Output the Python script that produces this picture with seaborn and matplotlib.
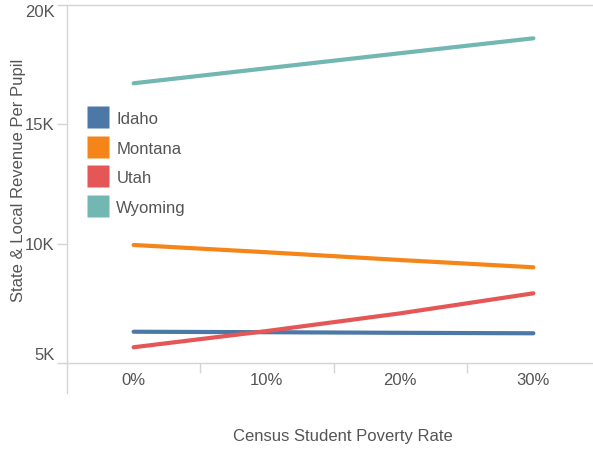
import matplotlib
matplotlib.use("Agg")
import matplotlib.pyplot as plt
import seaborn as sns
import pandas as pd
from matplotlib.lines import Line2D

states = ["Idaho", "Montana", "Utah", "Wyoming"]
poverty_rates = [0, 10, 20, 30]
idaho = [6310, 6290, 6265, 6245]
montana = [9945, 9640, 9315, 9010]
utah = [5660, 6340, 7080, 7920]
wyoming = [16720, 17350, 17980, 18605]
colors = ["#4c78a8", "#f58518", "#e45756", "#72b7b2"]
y_ticks = [5000, 10000, 15000, 20000]
y_tick_labels = ["5K", "10K", "15K", "20K"]
x_tick_labels = ["0%", "10%", "20%", "30%"]

series = {"Idaho": idaho, "Montana": montana, "Utah": utah, "Wyoming": wyoming}
rows = []
for s in states:
    for x, v in zip(poverty_rates, series[s]):
        rows.append({"rate": x, "revenue": v, "state": s})
df = pd.DataFrame(rows)

sns.set_theme(style="white")
plt.rcParams["font.family"] = ["Liberation Sans", "DejaVu Sans"]

W, H = 593, 451
fig = plt.figure(figsize=(W / 100, H / 100), dpi=100)
ax = fig.add_axes([67 / W, 1 - 363 / H, (600 - 67) / W, (363 - 5) / H])

sns.lineplot(data=df, x="rate", y="revenue", hue="state", hue_order=states,
             palette=colors, linewidth=3.0, ax=ax, legend=False,
             solid_capstyle="round")

ax.set_xlim(-5, 35)
ax.set_ylim(5000, 20000)

grey_line = "#d4d4d4"
text_col = "#555555"
fs = 12

for sp in ["left", "top", "bottom"]:
    ax.spines[sp].set_color(grey_line)
    ax.spines[sp].set_linewidth(1.0)
ax.spines["right"].set_visible(False)

ax.set_yticks(y_ticks)
ax.set_yticklabels(y_tick_labels)
ax.tick_params(axis="y", length=7, width=1.0, color=grey_line, labelcolor=text_col,
               labelsize=fs, pad=2, left=True)
ytl = ax.get_yticklabels()
ytl[0].set_va("bottom")
ytl[-1].set_va("top")

# labels at band centers, ticks at band edges
ax.set_xticks(poverty_rates)
ax.set_xticklabels(x_tick_labels)
ax.set_xticks([5, 15, 25], minor=True)
ax.tick_params(axis="x", which="major", length=0, labelcolor=text_col, labelsize=fs, pad=7)
ax.tick_params(axis="x", which="minor", length=7, width=1.0, color=grey_line, bottom=True)

# extended left edge line below the axis
ax.add_line(Line2D([0, 0], [0, -30 / 358], transform=ax.transAxes, color=grey_line,
                   linewidth=1.0, clip_on=False))

ax.set_xlabel("Census Student Poverty Rate", fontsize=fs, color=text_col, labelpad=0)
ax.xaxis.set_label_coords((343 - 67) / 533, -(429 - 363) / 358)
ax.set_ylabel("State & Local Revenue Per Pupil", fontsize=fs, color=text_col)
ax.yaxis.set_label_coords(-(67 - 26) / 533, (363 - 180) / 358)

handles = [Line2D([], [], marker="s", markersize=15.5, linestyle="none",
                  markerfacecolor=c, markeredgecolor="none") for c in colors]
leg = ax.legend(handles, states, loc="upper left",
                bbox_to_anchor=((88 - 67) / 533, (363 - 110) / 358),
                frameon=False, borderpad=0, borderaxespad=0, prop={"size": fs},
                handlelength=1.25, handleheight=1.25, handletextpad=0.45,
                labelspacing=0.71)
for t in leg.get_texts():
    t.set_color(text_col)

fig.savefig("out.png", dpi=100)
